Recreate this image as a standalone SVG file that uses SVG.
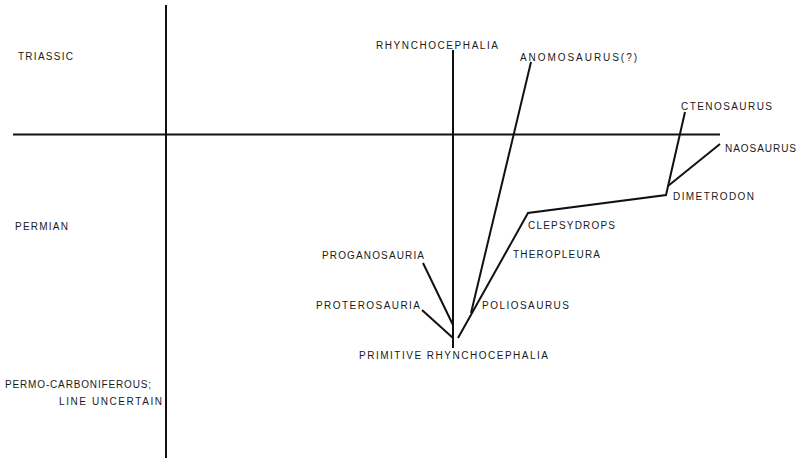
<svg xmlns="http://www.w3.org/2000/svg" width="799" height="460" viewBox="0 0 799 460">
<style>
text{font-family:"Liberation Sans",Arial,sans-serif;font-size:10px;fill:#1a1a1a}
.ax{stroke:#111;stroke-width:2;fill:none}
.ln{stroke:#111;stroke-width:2;fill:none;stroke-linejoin:miter}
</style>
<rect width="799" height="460" fill="#fff"/>
<g id="axes">
<line class="ax" x1="166" y1="5" x2="166" y2="458"/>
<line class="ax" x1="13" y1="134.5" x2="720" y2="134.5"/>
</g>
<g id="periods">
<text id="triassic" x="18" y="60" textLength="55" lengthAdjust="spacing">TRIASSIC</text>
<text id="permian" x="15" y="230" textLength="53" lengthAdjust="spacing">PERMIAN</text>
<text id="permo" x="5" y="388" textLength="146" lengthAdjust="spacing">PERMO-CARBONIFEROUS;</text>
<text id="uncertain" x="59" y="405" textLength="103" lengthAdjust="spacing">LINE UNCERTAIN</text>
</g>
<g id="connectors">
<line class="ln" x1="453" y1="50" x2="453" y2="348"/>
<line class="ln" x1="423" y1="263" x2="453" y2="325"/>
<line class="ln" x1="422" y1="310" x2="453" y2="338"/>
<polyline class="ln" points="458,338 528,213 666,195 685,112"/>
<line class="ln" x1="531" y1="62" x2="471" y2="313"/>
<line class="ln" x1="668" y1="186" x2="720" y2="144"/>
</g>
<g id="n-rhyncho"><text x="376" y="49" textLength="122" lengthAdjust="spacing">RHYNCHOCEPHALIA</text></g>
<g id="n-anomosaurus"><text x="520" y="61" textLength="117" lengthAdjust="spacing">ANOMOSAURUS(?)</text></g>
<g id="n-ctenosaurus"><text x="681" y="110" textLength="91" lengthAdjust="spacing">CTENOSAURUS</text></g>
<g id="n-naosaurus"><text x="725" y="152" textLength="71" lengthAdjust="spacing">NAOSAURUS</text></g>
<g id="n-dimetrodon"><text x="673" y="200" textLength="81" lengthAdjust="spacing">DIMETRODON</text></g>
<g id="n-clepsydrops"><text x="528" y="229" textLength="87" lengthAdjust="spacing">CLEPSYDROPS</text></g>
<g id="n-theropleura"><text x="513" y="258" textLength="87" lengthAdjust="spacing">THEROPLEURA</text></g>
<g id="n-proganosauria"><text x="322" y="259" textLength="102" lengthAdjust="spacing">PROGANOSAURIA</text></g>
<g id="n-proterosauria"><text x="316" y="309" textLength="104" lengthAdjust="spacing">PROTEROSAURIA</text></g>
<g id="n-poliosaurus"><text x="482" y="309" textLength="87" lengthAdjust="spacing">POLIOSAURUS</text></g>
<g id="n-primitive"><text x="359" y="359" textLength="189" lengthAdjust="spacing">PRIMITIVE RHYNCHOCEPHALIA</text></g>
</svg>
